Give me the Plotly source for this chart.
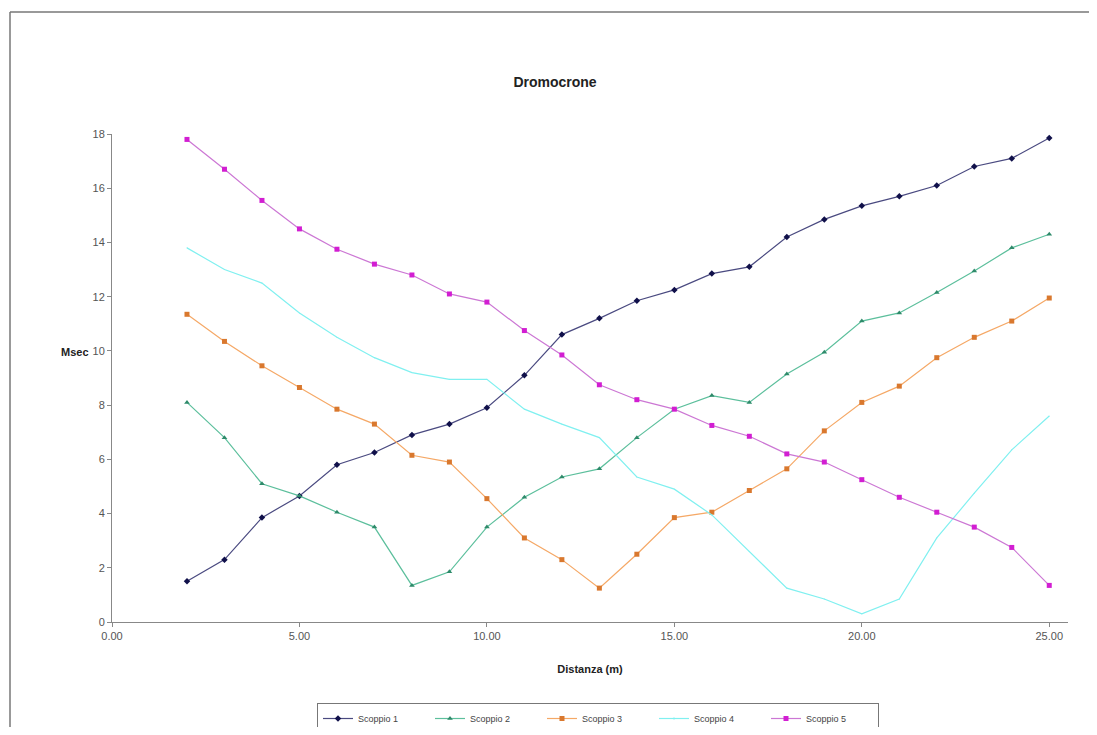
import plotly.graph_objects as go

distanza = list(range(2, 26))

scoppio1 = [1.5, 2.3, 3.85, 4.65, 5.8, 6.25, 6.9, 7.3, 7.9, 9.1, 10.6, 11.2,
            11.85, 12.25, 12.85, 13.1, 14.2, 14.85, 15.35, 15.7, 16.1, 16.8, 17.1, 17.85]
scoppio2 = [8.1, 6.8, 5.1, 4.65, 4.05, 3.5, 1.35, 1.85, 3.5, 4.6, 5.35, 5.65,
            6.8, 7.85, 8.35, 8.1, 9.15, 9.95, 11.1, 11.4, 12.15, 12.95, 13.8, 14.3]
scoppio3 = [11.35, 10.35, 9.45, 8.65, 7.85, 7.3, 6.15, 5.9, 4.55, 3.1, 2.3, 1.25,
            2.5, 3.85, 4.05, 4.85, 5.65, 7.05, 8.1, 8.7, 9.75, 10.5, 11.1, 11.95]
scoppio4 = [13.8, 13.0, 12.5, 11.4, 10.5, 9.75, 9.2, 8.95, 8.95, 7.85, 7.3, 6.8,
            5.35, 4.9, 3.95, 2.6, 1.25, 0.85, 0.3, 0.85, 3.1, 4.75, 6.35, 7.6]
scoppio5 = [17.8, 16.7, 15.55, 14.5, 13.75, 13.2, 12.8, 12.1, 11.8, 10.75, 9.85, 8.75,
            8.2, 7.85, 7.25, 6.85, 6.2, 5.9, 5.25, 4.6, 4.05, 3.5, 2.75, 1.35]

series_names = ["Scoppio 1", "Scoppio 2", "Scoppio 3", "Scoppio 4", "Scoppio 5"]
x_ticks = [0, 5, 10, 15, 20, 25]
y_ticks = [0, 2, 4, 6, 8, 10, 12, 14, 16, 18]

styles = [
    dict(line="#4a4a80", marker="#10104a", symbol="diamond", size=5),
    dict(line="#5cbf9c", marker="#2e8a6a", symbol="triangle-up", size=5),
    dict(line="#f5a866", marker="#d9782e", symbol="square", size=5),
    dict(line="#80f0f0", marker="#80f0f0", symbol="circle", size=1),
    dict(line="#cc77d4", marker="#d21ed2", symbol="square", size=5),
]

fig = go.Figure()
for name, vals, st in zip(series_names, [scoppio1, scoppio2, scoppio3, scoppio4, scoppio5], styles):
    fig.add_trace(go.Scatter(
        x=distanza, y=vals, name=name, mode="lines+markers",
        line=dict(color=st["line"], width=1.2),
        marker=dict(color=st["marker"], symbol=st["symbol"], size=st["size"]),
    ))

# page has an 8px body margin; figure is sized so it fits the 1097x735 viewport
W, H = 1081, 719
fig.update_layout(
    width=W, height=H,
    margin=dict(l=104, r=21, t=126, b=105, autoexpand=False),
    paper_bgcolor="white", plot_bgcolor="white",
    font=dict(family="Liberation Sans, Arial, sans-serif", size=11, color="#333333"),
    title=dict(text="<b>Dromocrone</b>", x=547 / W, xanchor="center",
               y=1 - 74 / H, yanchor="middle", font=dict(size=14, color="#222222")),
    showlegend=True,
    legend=dict(orientation="h", x=(598 - 112) / 956, xanchor="center",
                y=(622 - 703) / 488, yanchor="top",
                bordercolor="#777777", borderwidth=1, font=dict(size=9, color="#444444"),
                itemwidth=30, entrywidth=67, entrywidthmode="pixels", tracegroupgap=0),
)

fig.update_xaxes(
    range=[0, 25.5], tickvals=x_ticks, ticktext=[f"{v:.2f}" for v in x_ticks],
    showline=True, linecolor="#888888", linewidth=1, ticks="outside", ticklen=4,
    tickcolor="#888888", showgrid=False, zeroline=False,
    title=dict(text="<b>Distanza (m)</b>", font=dict(size=11, color="#222222"), standoff=24),
    tickfont=dict(size=11, color="#555555"),
)
fig.update_yaxes(
    range=[0, 18], tickvals=y_ticks, showline=True, linecolor="#888888", linewidth=1,
    ticks="outside", ticklen=4, tickcolor="#888888", showgrid=False, zeroline=False,
    tickfont=dict(size=11, color="#555555"),
)

fig.add_annotation(text="<b>Msec</b>", xref="paper", yref="paper",
                   x=(75 - 112) / 956, y=(622 - 352) / 488, showarrow=False,
                   xanchor="center", yanchor="middle", font=dict(size=11, color="#222222"))

bx0 = (10 - 112) / 956
by1 = (622 - 12) / 488
fig.add_shape(type="line", xref="paper", yref="paper",
              x0=bx0, x1=bx0, y0=(622 - 760) / 488, y1=by1,
              line=dict(color="#777777", width=1.5))
fig.add_shape(type="line", xref="paper", yref="paper",
              x0=bx0, x1=(1200 - 112) / 956, y0=by1, y1=by1,
              line=dict(color="#777777", width=1.5))

fig.write_html("out.html")
